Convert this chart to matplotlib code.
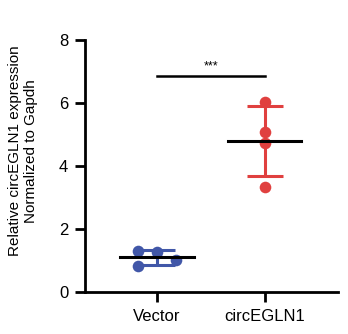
import matplotlib.pyplot as plt
import numpy as np

plt.rcParams['font.family'] = ['Liberation Sans', 'DejaVu Sans']

# data
groups = ['Vector', 'circEGLN1']
vector_vals = [1.31, 1.28, 1.02, 0.81]
circ_vals = [6.02, 5.08, 4.72, 3.34]
vector_jitter = [-0.18, 0.0, 0.18, -0.18]
circ_jitter = [0.0, 0.0, 0.0, 0.0]
colors = ['#4157a8', '#e0403f']

fig = plt.figure(figsize=(3.48, 3.34), dpi=100)
ax = fig.add_axes([0.244, 0.126, 0.727, 0.754])

for i, (vals, jit) in enumerate([(vector_vals, vector_jitter), (circ_vals, circ_jitter)]):
    vals = np.array(vals)
    m = vals.mean()
    sd = vals.std(ddof=1)
    ax.errorbar([i], [m], yerr=[sd], fmt='none', ecolor=colors[i], elinewidth=2.2,
                capsize=13, capthick=2.2, zorder=2)
    ax.scatter(i + np.array(jit), vals, s=70, color=colors[i], zorder=3, linewidths=0)
    ax.plot([i - 0.34, i + 0.34], [m, m], color='black', lw=2.2, zorder=4)

# significance bar
ax.plot([0, 1], [6.87, 6.87], color='black', lw=1.8)
ax.text(0.5, 6.98, '***', ha='center', va='bottom', fontsize=9)

ax.set_xlim(-0.67, 1.68)
ax.set_ylim(0, 8)
ax.set_yticks([0, 2, 4, 6, 8])
ax.set_xticks([0, 1])
ax.set_xticklabels(groups)
ax.set_ylabel('Relative circEGLN1 expression\nNormalized to Gapdh', fontsize=11)
ax.yaxis.set_label_coords(-0.185, 0.56)
ax.tick_params(labelsize=12, width=2, length=7, pad=5)
for s in ['top', 'right']:
    ax.spines[s].set_visible(False)
for s in ['left', 'bottom']:
    ax.spines[s].set_linewidth(2)
ax.spines['left'].set_bounds(0, 8)

fig.savefig('out.png', dpi=100)
